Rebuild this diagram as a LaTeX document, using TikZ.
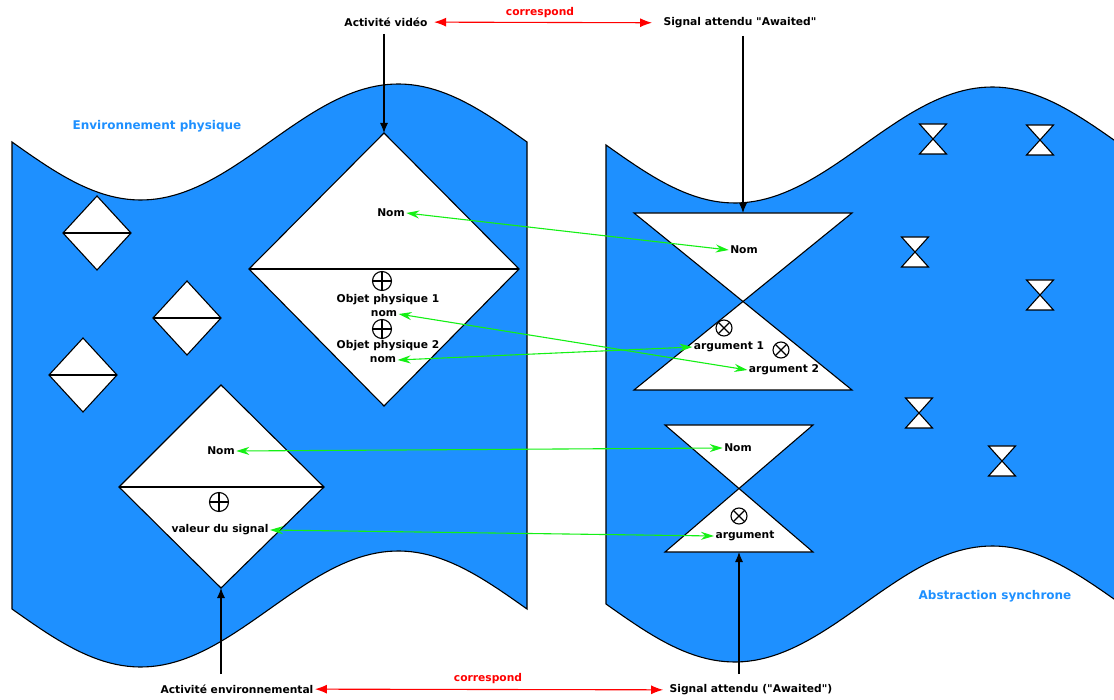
\documentclass[tikz,border=0pt]{standalone}
\usepackage{fontspec}
\setmainfont{DejaVu Sans}[Ligatures=TeXOff]
\usepackage{tikz}
\usetikzlibrary{arrows,arrows.meta,positioning}
\definecolor{ciel}{RGB}{30,144,255}
\definecolor{vert}{RGB}{20,240,20}
\tikzset{%
  >={Latex[length=10pt,width=8pt]},
  forme/.style={draw=black,fill=white,line join=miter},
  oplus/.style={circle,draw,minimum size=19pt,inner sep=0pt,fill=white,%
    path picture={\draw (path picture bounding box.north) -- (path picture bounding box.south)
      (path picture bounding box.west) -- (path picture bounding box.east);}},
  otimes/.style={circle,draw,minimum size=16pt,inner sep=0pt,fill=white,%
    path picture={\draw (path picture bounding box.north west) -- (path picture bounding box.south east)
      (path picture bounding box.north east) -- (path picture bounding box.south west);}}
}

\begin{document}
\begin{tikzpicture}[x=1pt,y=-1pt,line width=1.1pt,%
                    t/.style={inner sep=1pt,font=\fontsize{10.7}{12}\bfseries\selectfont},%
                    titre/.style={inner sep=1pt,text=ciel,font=\fontsize{12}{14}\bfseries\selectfont},%
                    rouge/.style={inner sep=1pt,text=red,font=\fontsize{10.7}{12}\bfseries\selectfont},%
                    lien/.style={{Latex[length=12pt,width=9pt]}-{Latex[length=12pt,width=9pt]},draw=red,line width=1.1pt},%
                    fleche/.style={->,line width=1.1pt},%
                    corr/.style={{Stealth[length=13pt,width=8pt]}-{Stealth[length=13pt,width=8pt]},draw=vert,line width=1.1pt}]
  \useasboundingbox (0,0) rectangle (1114,700);
  \clip (0,0) rectangle (1114,700);
  \filldraw[fill=ciel,draw=black]
    plot[domain=0:515,samples=90] ({12+\x},{142+58*sin(\x/515*360)})
    -- plot[domain=515:0,samples=90] ({12+\x},{609+58*sin(\x/515*360)}) -- cycle;
  \filldraw[fill=ciel,draw=black]
    plot[domain=0:530,samples=90] ({606+\x},{145+58*sin(\x/515*360)})
    -- plot[domain=530:0,samples=90] ({606+\x},{604+58*sin(\x/515*360)}) -- cycle;
  \node[titre] (envphys) at (157,126) {Environnement physique};
  \node[titre] (abssync) at (995,596) {Abstraction synchrone};

  \draw[forme] (384,133) -- (519,269) -- (384,406) -- (249,269) -- cycle;
  \draw (249,269) -- (519,269);
  \coordinate (sommet) at (384,133);
  \foreach \cx/\cy in {97/233,187/318,83/375}{
    \draw[forme] (\cx,\cy-37) -- ++(34,37) -- ++(-34,37) -- ++(-34,-37) -- cycle;
    \draw (\cx-34,\cy) -- ++(68,0);
  }
  \draw[forme] (221,385) -- (324,487) -- (221,588) -- (119,487) -- cycle;
  \draw (119,487) -- (324,487);
  \coordinate (pied) at (221,588);

  \draw[forme] (634,213) -- (852,213) -- (634,390) -- (852,390) -- cycle;
  \coordinate (haut) at (743,213);
  \draw[forme] (665,425) -- (813,425) -- (665,552) -- (813,552) -- cycle;
  \coordinate (base) at (739,552);
  \foreach \cx/\cy in {933/139,1040/140,915/252,1040/295,919/413,1002/461}{
    \draw[forme] (\cx-13.5,\cy-15) -- ++(27,0) -- ++(-27,30) -- ++(27,0) -- cycle;
  }

  \node[t] (nomP) at (391,213) {Nom};
  \node[oplus] (op1) at (382,281) {};
  \node[t] (obj1) at (388,300) {Objet physique 1};
  \node[t] (nom1) at (384,314) {nom};
  \node[oplus] (op2) at (382,329) {};
  \node[t] (obj2) at (388,346) {Objet physique 2};
  \node[t] (nom2) at (383,360) {nom};
  \node[t] (nomE) at (221,451) {Nom};
  \node[oplus] (op3) at (219,502) {};
  \node[t] (val) at (220,530) {valeur du signal};

  \node[t] (nomS) at (744,250) {Nom};
  \node[otimes] (ot1) at (724,328) {};
  \node[t] (arg1) at (729,347) {argument 1};
  \node[otimes] (ot2) at (781,350) {};
  \node[t] (arg2) at (784,370) {argument 2};
  \node[t] (nomS2) at (738,448) {Nom};
  \node[otimes] (ot3) at (739,516) {};
  \node[t] (arg) at (745,536) {argument};

  \node[t] (video) at (386,22) {Activité vidéo};
  \node[t] (awaited) at (740,23) {Signal attendu "Awaited"};
  \node[rouge] (corr1) at (540,13) {correspond};
  \node[t] (envir) at (237,689) {Activité environnemental};
  \node[t] (await2) at (751,690) {Signal attendu ("Awaited")};
  \node[rouge] (corr2) at (488,679) {correspond};

  \draw[lien,shorten <=5pt,shorten >=10pt] (video) -- (awaited);
  \draw[lien,shorten >=5pt] (envir) -- (await2);
  \draw[fleche,shorten <=6pt] (sommet |- video.south) -- (sommet);
  \draw[fleche,shorten <=6pt] (haut |- awaited.south) -- (haut);
  \draw[fleche,shorten <=9pt] (pied |- envir.north) -- (pied);
  \draw[fleche,shorten <=9pt] (base |- await2.north) -- (base);

  \draw[corr] (nomP.east) -- (nomS.west);
  \draw[corr] (nom1.east) -- (arg2.west);
  \draw[corr] (nom2.east) -- (arg1.west);
  \draw[corr] (nomE.east) -- (nomS2.west);
  \draw[corr] (val.east) -- (arg.west);
\end{tikzpicture}
\end{document}
